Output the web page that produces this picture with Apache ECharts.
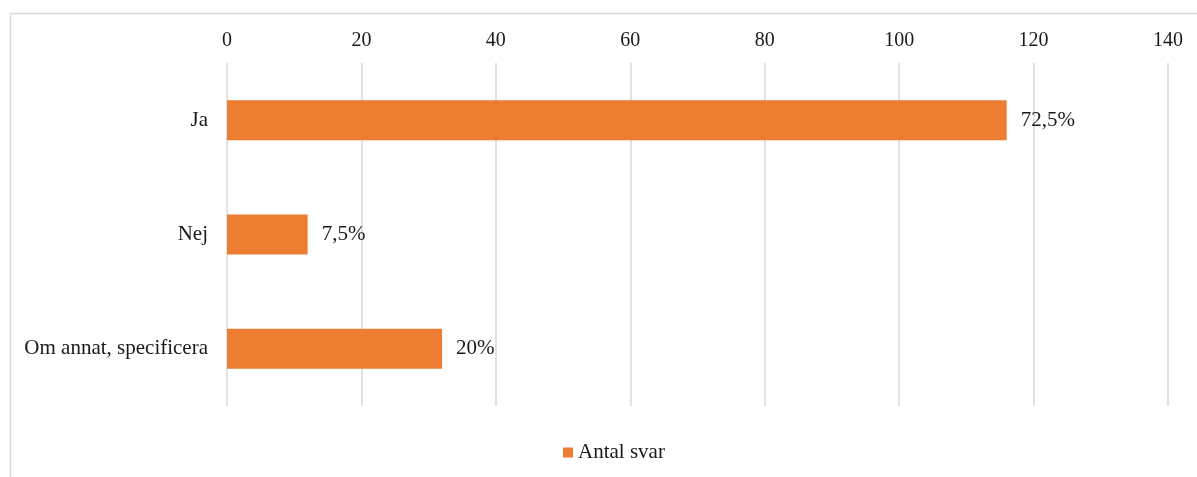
<!DOCTYPE html>
<html>
<head>
<meta charset="utf-8">
<script src="https://cdn.jsdelivr.net/npm/echarts@6/dist/echarts.min.js"></script>
<style>
html,body{margin:0;padding:0;background:#fff;}
#c{width:1197px;height:477px;}
</style>
</head>
<body>
<div id="c"></div>
<script>
const categories = ["Ja", "Nej", "Om annat, specificera"];
const values = [116, 12, 32];
const pctLabels = ["72,5%", "7,5%", "20%"];
const seriesName = "Antal svar";

const chart = echarts.init(document.getElementById('c'), null, {renderer: 'canvas'});
const font = '"Liberation Serif", "Times New Roman", serif';
chart.setOption({
  animation: false,
  backgroundColor: '#fff',
  textStyle: {fontFamily: font},
  graphic: [{
    type: 'rect',
    shape: {x: 10.5, y: 13.5, width: 1200, height: 500},
    style: {fill: 'none', stroke: '#d9d9d9', lineWidth: 1.5},
    silent: true
  }],
  grid: {left: 227, right: 29, top: 63, bottom: 71, containLabel: false},
  legend: {
    top: 437,
    left: 558,
    itemWidth: 10, itemHeight: 10,
    icon: 'rect',
    itemGap: 5,
    textStyle: {fontFamily: font, fontSize: 21, color: '#1a1a1a'},
    data: [seriesName]
  },
  xAxis: {
    type: 'value',
    position: 'top',
    min: 0, max: 140, interval: 20,
    axisLine: {show: false},
    axisTick: {show: false},
    axisLabel: {fontFamily: font, fontSize: 20, color: '#1a1a1a', margin: 12},
    splitLine: {lineStyle: {color: '#d9d9d9', width: 1.5}}
  },
  yAxis: {
    type: 'category',
    inverse: true,
    data: categories,
    axisLine: {show: false},
    axisTick: {show: false},
    axisLabel: {fontFamily: font, fontSize: 21, color: '#1a1a1a', margin: 19, padding: [6, 0, 0, 0]}
  },
  series: [{
    name: seriesName,
    type: 'bar',
    data: values,
    barWidth: '35%',
    itemStyle: {color: '#ED7D31'},
    label: {
      show: true,
      position: 'right',
      distance: 14,
      fontFamily: font,
      fontSize: 21,
      color: '#1a1a1a',
      padding: [6, 0, 0, 0],
      formatter: p => pctLabels[p.dataIndex]
    }
  }]
});
</script>
</body>
</html>
